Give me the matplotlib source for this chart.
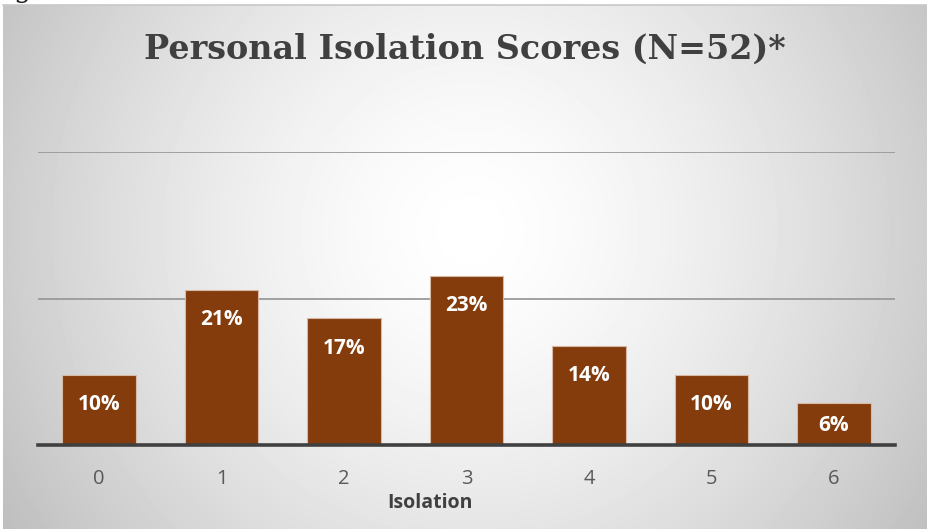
import numpy as np
import matplotlib
matplotlib.use("Agg")
import matplotlib.pyplot as plt
from matplotlib.lines import Line2D

# ==== data ====
scores = ["0", "1", "2", "3", "4", "5", "6"]
percent = [9.6, 21.2, 17.3, 23.1, 13.5, 9.6, 5.8]   # counts 5,11,9,12,7,5,3 of N=52
title = "Personal Isolation Scores (N=52)*"
xlabel = "Isolation"

W, H = 927, 531
fig = plt.figure(figsize=(W / 100, H / 100), dpi=100)
fig.patch.set_facecolor("white")

# ==== radial gradient background ====
bg = fig.add_axes([3 / W, 2 / H, (W - 3) / W, (H - 7) / H], zorder=-5)
gx, gy = np.meshgrid(np.arange(W - 3), np.arange(H - 7))
cx, cy = 467, 225
d = np.sqrt((gx - cx) ** 2 + (gy - cy) ** 2) / 560.0
val = 1.0 - 0.26 * np.clip(d, 0, 1) ** 1.5
bg.imshow(val, cmap="gray", vmin=0, vmax=1, aspect="auto", interpolation="bilinear")
bg.axis("off")
fig.add_artist(Line2D([3 / W, 1], [1 - 5 / H] * 2, color="#c8c8c8", lw=1.2))
fig.text(14 / W, 1 + 3 / H, "g", fontsize=20, color="#222222", va="baseline",
         family="DejaVu Serif")

# ==== bars ====
ax = fig.add_axes([38 / W, 1 - 445 / H, (895 - 38) / W, (445 - 152) / H])
ax.set_facecolor("none")
x = np.arange(len(scores))
bars = ax.bar(x, percent, width=0.6, color="#843C0C", edgecolor="#d9b8a6",
              linewidth=0.8, zorder=3)
ax.set_xlim(-0.5, 6.5)
ax.set_ylim(0, 40)
ax.set_yticks([0, 20, 40])
ax.yaxis.grid(True, color="#9a9a9a", lw=1.3, zorder=0)
ax.tick_params(axis="y", length=0, labelleft=False)
ax.set_xticks(x)
ax.set_xticklabels(scores, family="Open Sans", fontsize=14.5, color="#595959")
ax.tick_params(axis="x", length=0, pad=17)
for s in ["top", "right", "left"]:
    ax.spines[s].set_visible(False)
ax.spines["bottom"].set_color("#404040")
ax.spines["bottom"].set_linewidth(2.6)
ax.spines["bottom"].set_zorder(4)

# labels inside bar ends
ax_h_pt = (445 - 152) * 72 / 100
for xi, v in zip(x, percent):
    half = v / 40 * ax_h_pt / 2
    off = min(21.5, half + 1.5)
    ax.annotate(f"{round(v)}%", (xi, v), xytext=(0, -off), textcoords="offset points",
                ha="center", va="center", color="white", fontsize=15,
                fontweight="bold", family="Open Sans", zorder=5)

fig.text(430 / W, 1 - 503 / H, xlabel, ha="center", va="center", family="Open Sans",
         fontsize=14, fontweight="bold", color="#404040")
fig.text(465 / W, 1 - 49 / H, title, ha="center", va="center", family="DejaVu Serif",
         fontsize=24, fontweight="bold", color="#404040")

fig.savefig("out.png", dpi=100)
